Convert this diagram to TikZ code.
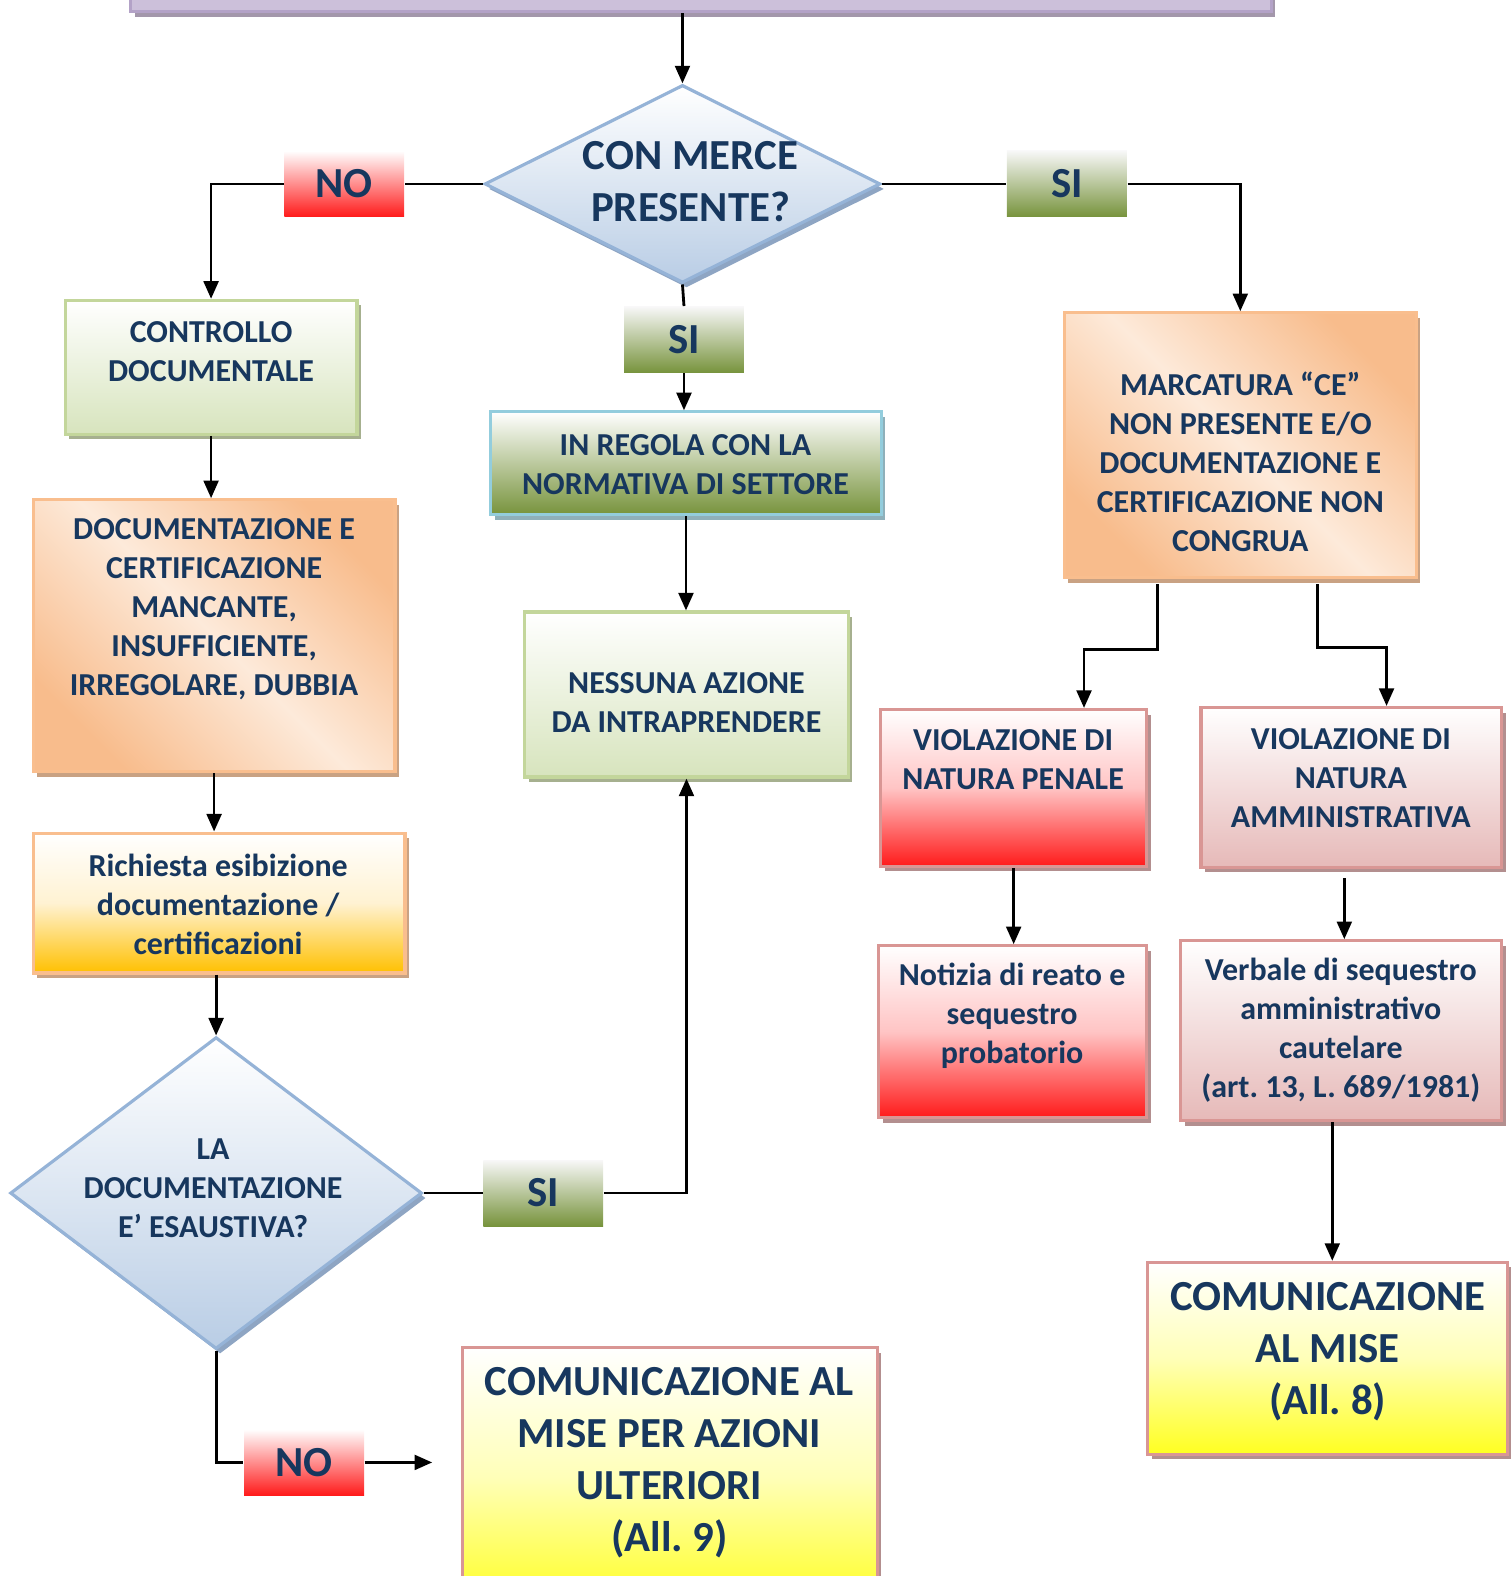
\documentclass[tikz,border=0pt]{standalone}
\usepackage{fontspec}
\setmainfont{Carlito}
\frenchspacing
\usetikzlibrary{positioning}
\usetikzlibrary{shapes.geometric}
\usetikzlibrary{arrows.meta}
\usetikzlibrary{shadows}
\usetikzlibrary{calc}

\definecolor{txtblue}{HTML}{17375E}
\definecolor{diafill}{HTML}{B9CDE5}
\definecolor{dialine}{HTML}{95B3D7}
\definecolor{diashd}{HTML}{8EA5C3}
\definecolor{purfill}{HTML}{CCC0DA}
\definecolor{purline}{HTML}{B3A2C7}
\definecolor{purshd}{HTML}{A397AB}
\definecolor{grnfill}{HTML}{D7E4BD}
\definecolor{grnline}{HTML}{C3D69B}
\definecolor{grnshd}{HTML}{A6B08F}
\definecolor{orgdark}{HTML}{F8BC8C}
\definecolor{orglight}{HTML}{FDEADA}
\definecolor{orgline}{HTML}{F9BE8E}
\definecolor{orgshd}{HTML}{C9A283}
\definecolor{ambfill}{HTML}{FFC000}
\definecolor{ambmid}{HTML}{FFF2D2}
\definecolor{redfill}{HTML}{FF1A1A}
\definecolor{redmid}{HTML}{FFC4C4}
\definecolor{redline}{HTML}{D99694}
\definecolor{redshd}{HTML}{B38F8F}
\definecolor{pinkfill}{HTML}{E6B9B8}
\definecolor{yelfill}{HTML}{FFFF20}
\definecolor{yelmid}{HTML}{FFFFB8}
\definecolor{regfill}{HTML}{77933C}
\definecolor{regline}{HTML}{93CDDD}
\definecolor{regshd}{HTML}{8FB0BA}

\newcommand{\fsmall}{\fontsize{9.1}{11.1}\selectfont\bfseries}
\newcommand{\fbig}{\fontsize{12.2}{14.8}\selectfont\bfseries}

\tikzset{
  box/.style={rectangle, line width=0.9pt, inner sep=0pt},
  shd/.style={drop shadow={shadow xshift=0.04cm, shadow yshift=-0.05cm, fill=#1, opacity=1}},
  purplebox/.style={box, draw=purline, fill=purfill, shd=purshd},
  greenbox/.style={box, draw=grnline, top color=white, bottom color=grnfill, shd=grnshd},
  orangebox/.style={box, draw=orgline, left color=orgdark, right color=orgdark, middle color=orglight, shading angle=135, shd=orgshd},
  amberbox/.style={box, draw=orgline, top color=white, bottom color=ambfill, middle color=ambmid, shd=orgshd},
  regbox/.style={box, draw=regline, top color=white, bottom color=regfill, shd=regshd},
  redbox/.style={box, draw=redline, top color=white, bottom color=redfill, middle color=redmid, shd=redshd},
  pinkbox/.style={box, draw=redline, top color=white, bottom color=pinkfill, shd=redshd},
  yelbox/.style={box, draw=redline, top color=white, bottom color=yelfill, middle color=yelmid, shd=redshd},
  diam/.style={diamond, draw=dialine, line width=0.9pt, inner sep=0pt, top color=white, bottom color=diafill, shd=diashd},
  txt/.style={text=txtblue, align=center, font=\fsmall, inner sep=0pt},
  bigtxt/.style={txt, font=\fbig},
  lbl/.style={rectangle, inner sep=0pt, minimum width=1.2cm, minimum height=0.66cm, text=txtblue, font=\fbig},
  nolbl/.style={lbl, top color=white, bottom color=redfill},
  silbl/.style={lbl, top color=white!97!black, bottom color=regfill},
  link/.style={line width=0.8pt},
  arr/.style={link, -{Triangle[length=5pt,width=4.2pt]}}
}

\begin{document}
\begin{tikzpicture}[x=0.010053cm, y=-0.010053cm]

\useasboundingbox (0,0) rectangle (1503,1568);

% boxes
{
\node[purplebox, minimum width=11.41cm, minimum height=0.72cm] (start) at (697.5,-24) {};

\node[diam, minimum width=3.96cm, minimum height=1.98cm] (d1) at (679,183) {};
\node[diam, minimum width=4.12cm, minimum height=3.12cm] (d2) at (215,1187) {};

\node[greenbox, minimum width=2.92cm, minimum height=1.34cm] (ctrl) at (210,365.5) {};
\node[orangebox, minimum width=3.62cm, minimum height=2.72cm] (doc) at (213,632.5) {};
\node[amberbox, minimum width=3.72cm, minimum height=1.40cm] (rich) at (218,898.5) {};

\node[regbox, minimum width=3.91cm, minimum height=1.03cm] (reg) at (682.5,461) {};
\node[greenbox, minimum width=3.24cm, minimum height=1.65cm] (ness) at (683,691) {};
\node[yelbox, minimum width=4.15cm, minimum height=2.60cm] (com9) at (666.5,1470) {};

\node[orangebox, minimum width=3.52cm, minimum height=2.65cm] (marc) at (1234,443) {};
\node[redbox, minimum width=2.66cm, minimum height=1.57cm] (pen) at (1008.5,784) {};
\node[pinkbox, minimum width=3.01cm, minimum height=1.60cm] (adm) at (1344.5,783.5) {};
\node[redbox, minimum width=2.68cm, minimum height=1.72cm] (not) at (1007.5,1026.5) {};
\node[pinkbox, minimum width=3.21cm, minimum height=1.80cm] (verb) at (1334.5,1025.5) {};
\node[yelbox, minimum width=3.60cm, minimum height=1.92cm] (com8) at (1321,1351.5) {};
}

% labels on the lines
{
\node[nolbl] (no1) at (342.5,183) {NO};
\node[silbl] (si1) at (1061.5,183) {SI};
\node[silbl] (si2) at (680.5,338) {SI};
\node[silbl] (si3) at (540.5,1187) {SI};
\node[nolbl] (no2) at (302.5,1455) {NO};
}

% texts
{
\node[bigtxt] (d1-t) at (687,181) {CON MERCE\\PRESENTE?};
\node[txt] (d2-t) at (212,1182) {LA\\DOCUMENTAZIONE\\E’ ESAUSTIVA?};

\node[txt] (ctrl-t) at (210,350) {CONTROLLO\\DOCUMENTALE};
\node[txt] (doc-t) at (213,606) {DOCUMENTAZIONE E\\CERTIFICAZIONE\\MANCANTE,\\INSUFFICIENTE,\\IRREGOLARE, DUBBIA};
\node[txt] (rich-t) at (217,900) {Richiesta esibizione\\documentazione /\\certificazioni};

\node[txt] (reg-t) at (682,462) {IN REGOLA CON LA\\NORMATIVA DI SETTORE};
\node[txt] (ness-t) at (683,699) {NESSUNA AZIONE\\DA INTRAPRENDERE};
\node[bigtxt] (com9-t) at (666,1455) {COMUNICAZIONE AL\\MISE PER AZIONI\\ULTERIORI\\(All. 9)};

\node[txt] (marc-t) at (1234,459) {MARCATURA “CE”\\NON PRESENTE E/O\\DOCUMENTAZIONE E\\CERTIFICAZIONE NON\\CONGRUA};
\node[txt] (pen-t) at (1008,756) {VIOLAZIONE DI\\NATURA PENALE};
\node[txt] (adm-t) at (1344,774) {VIOLAZIONE DI\\NATURA\\AMMINISTRATIVA};
\node[txt] (not-t) at (1007,1011) {Notizia di reato e\\sequestro\\probatorio};
\node[txt] (verb-t) at (1334,1025) {Verbale di sequestro\\amministrativo\\cautelare\\(art. 13, L. 689/1981)};
\node[bigtxt] (com8-t) at (1321,1345) {COMUNICAZIONE\\AL MISE\\(All. 8)};
}

% connectors
{
\coordinate (a9end) at (430,1455);

\draw[arr] (d1.north |- start.south) -- (d1.north);
\draw[link] (d1.west) -- (no1.east);
\draw[arr] (no1.west) -| (ctrl.north);
\draw[link] (d1.east) -- (si1.west);
\draw[arr] (si1.east) -| (marc.north);
\draw[link] (d1.south) -- (si2.north);
\draw[arr] (si2.south) -- (si2.south |- reg.north);

\draw[arr] (ctrl.south) -- (ctrl.south |- doc.north);
\draw[arr] (doc.south) -- (doc.south |- rich.north);
\draw[arr] (rich.south -| d2.north) -- (d2.north);
\draw[link] (d2.east) -- (si3.west);
\draw[arr] (si3.east) -| (ness.south);
\draw[link] (d2.south) |- (no2.west);
\draw[arr] (no2.east) -- (a9end);
\draw[arr] (reg.south) -- (reg.south |- ness.north);

\draw[arr] ($(marc.south)+(-82,5)$) -- ++(0,65) -| ($(pen.north)+(70,0)$);
\draw[arr] ($(marc.south)+(77,5)$) -- ++(0,63) -| ($(adm.north)+(35,0)$);
\draw[arr] (pen.south) -- (pen.south |- not.north);
\draw[arr] ($(adm.south)+(-7,9)$) -- ($(adm.south |- verb.north)+(-7,0)$);
\draw[arr] ($(verb.south)+(-9,0)$) -- ($(verb.south |- com8.north)+(-9,0)$);
}

\end{tikzpicture}
\end{document}
